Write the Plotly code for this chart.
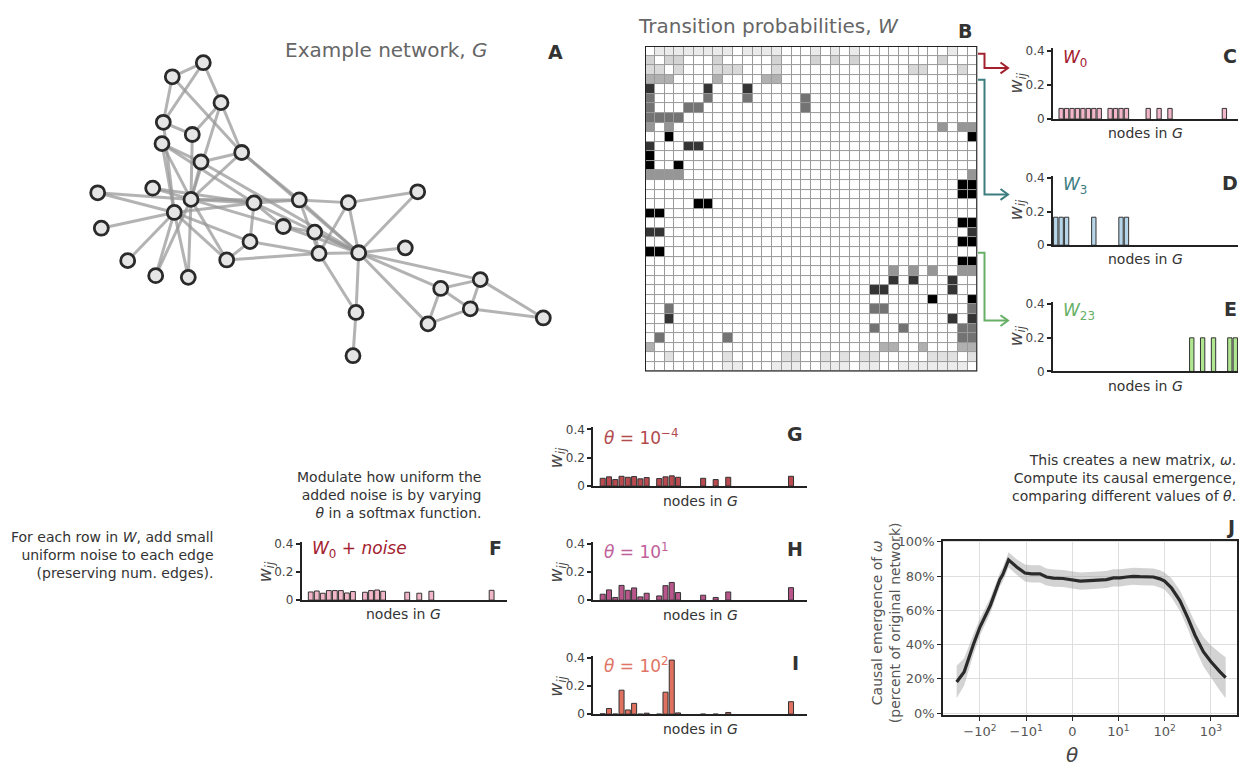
import plotly.graph_objects as go
import numpy as np

W_PX, H_PX = 1240, 771

# ---------------- data ----------------
# Zachary karate club edges (network behind matrix B and rows in C-E)
karate_edges = [
    (0, 1), (0, 2), (0, 3), (0, 4), (0, 5), (0, 6), (0, 7), (0, 8), (0, 10), (0, 11), (0, 12), (0, 13),
    (0, 17), (0, 19), (0, 21), (0, 31), (1, 2), (1, 3), (1, 7), (1, 13), (1, 17), (1, 19), (1, 21), (1, 30),
    (2, 3), (2, 7), (2, 8), (2, 9), (2, 13), (2, 27), (2, 28), (2, 32), (3, 7), (3, 12), (3, 13), (4, 6),
    (4, 10), (5, 6), (5, 10), (5, 16), (6, 16), (8, 30), (8, 32), (8, 33), (9, 33), (13, 33), (14, 32),
    (14, 33), (15, 32), (15, 33), (18, 32), (18, 33), (19, 33), (20, 32), (20, 33), (22, 32), (22, 33),
    (23, 25), (23, 27), (23, 29), (23, 32), (23, 33), (24, 25), (24, 27), (24, 31), (25, 31), (26, 29),
    (26, 33), (27, 33), (28, 31), (28, 33), (29, 32), (29, 33), (30, 32), (30, 33), (31, 32), (31, 33),
    (32, 33)]
n_nodes = 34

# Panel A layout coordinates
node_x = [203.3, 172.3, 221.0, 163.3, 192.3, 162.0, 241.7, 201.0, 97.7, 152.7, 191.0, 174.3,
          254.0, 299.3, 348.3, 417.7, 101.3, 283.3, 314.7, 250.0, 405.3, 319.0, 358.7, 127.7,
          226.7, 155.7, 188.3, 480.3, 440.7, 470.3, 356.0, 428.0, 543.3, 353.0]
node_y = [57.7, 72.0, 98.3, 118.3, 130.7, 140.0, 149.0, 158.7, 190.0, 185.3, 196.7, 210.0,
          200.3, 197.3, 200.0, 189.0, 226.0, 224.3, 230.0, 239.7, 246.0, 251.7, 251.0, 259.0,
          258.3, 274.3, 276.0, 278.3, 287.3, 308.0, 311.7, 323.3, 317.3, 355.7]
net_edges = [
    (0, 1), (0, 2), (0, 3), (1, 3), (1, 6), (2, 4), (2, 6), (2, 10), (3, 4), (3, 11), (4, 10), (5, 10),
    (5, 11), (5, 7), (5, 12), (6, 7), (6, 10), (6, 13), (6, 22), (7, 10), (7, 22), (8, 10), (8, 11),
    (9, 10), (9, 12), (10, 12), (10, 13), (10, 17), (10, 26), (10, 25), (10, 24), (11, 12), (11, 16),
    (11, 23), (11, 25), (11, 26), (11, 19), (11, 24), (12, 13), (12, 17), (12, 19), (12, 22), (13, 14),
    (13, 21), (13, 22), (14, 15), (14, 22), (14, 21), (15, 22), (17, 18), (17, 22), (18, 21), (18, 22),
    (19, 21), (19, 24), (21, 24), (21, 22), (20, 22), (22, 30), (30, 33), (21, 30), (22, 27), (22, 28),
    (22, 31), (27, 28), (28, 31), (28, 29), (27, 29), (29, 31), (27, 32), (29, 32)]

# Row 0 with noise (panels F-I)
row0_nbrs = [1, 2, 3, 4, 5, 6, 7, 8, 10, 11, 12, 13, 17, 19, 21, 31]
w0_noise = [0.058, 0.065, 0.049, 0.068, 0.068, 0.068, 0.051, 0.061, 0.056, 0.068, 0.072, 0.063,
            0.056, 0.049, 0.063, 0.070]
w_theta_m4 = [0.055, 0.065, 0.046, 0.069, 0.062, 0.067, 0.051, 0.060, 0.053, 0.065, 0.072, 0.062,
              0.055, 0.046, 0.062, 0.069]
w_theta_1 = [0.042, 0.073, 0.019, 0.105, 0.070, 0.087, 0.023, 0.049, 0.030, 0.103, 0.126, 0.054,
             0.035, 0.019, 0.058, 0.089]
w_theta_2 = [0.003, 0.040, 0.001, 0.171, 0.030, 0.077, 0.000, 0.007, 0.000, 0.157, 0.386, 0.009,
             0.000, 0.000, 0.012, 0.089]

# Panel J
theta = [-320, -220, -140, -100, -60, -37, -32, -24, -16, -10.6, -8.8, -7, -5.6, -4.1, -2, 0.2,
         1.7, 3.8, 6, 7.4, 8.9, 10.8, 15, 21, 29, 57, 79, 100, 140, 215, 325, 455, 690, 1000,
         1580, 2100]
ce_mean = [18.2, 24.1, 39.8, 50.3, 62.7, 78.0, 80.9, 89.5, 85.3, 81.8, 81.3, 81.3, 79.5, 78.8,
           78.6, 77.6, 77.1, 77.4, 77.6, 78.0, 79.0, 79.0, 79.5, 79.9, 79.7, 79.5, 78.4, 77.1,
           73.2, 65.6, 55.1, 45.5, 35.9, 30.2, 24.1, 20.7]
ce_err = [9.5, 8, 6, 5, 4.5, 4, 4, 4.5, 4.5, 5, 5, 5, 5, 5, 5, 5, 5, 5, 5, 5, 5, 5, 5, 5, 5, 5,
          5, 5, 5.5, 6, 6.5, 7.5, 8.5, 9.5, 11, 12]
j_ticks = [-100, -10, 0, 10, 100, 1000]
j_ticktext = ['\u221210<sup>2</sup>', '\u221210<sup>1</sup>', '0', '10<sup>1</sup>',
              '10<sup>2</sup>', '10<sup>3</sup>']
pct_ticks = [0, 20, 40, 60, 80, 100]

# ---------------- derived ----------------
A = np.zeros((n_nodes, n_nodes))
for a, b in karate_edges:
    A[a, b] = 1
    A[b, a] = 1
Wm = A / A.sum(axis=1, keepdims=True)


def symlog(v, lin=10.0):
    v = np.asarray(v, dtype=float)
    out = np.where(np.abs(v) <= lin, v / lin,
                   np.sign(v) * (1 + np.log10(np.maximum(np.abs(v), 1e-12) / lin)))
    return out


# ---------------- helpers ----------------
def xd(x0, x1):
    return [x0 / W_PX, x1 / W_PX]


def yd(ytop, ybot):
    return [1 - ybot / H_PX, 1 - ytop / H_PX]


def px(x):
    return x / W_PX


def py(y):
    return 1 - y / H_PX


fig = go.Figure()
layout = dict(width=W_PX, height=H_PX, margin=dict(l=0, r=0, t=0, b=0),
              paper_bgcolor='white', plot_bgcolor='white', showlegend=False,
              font=dict(family='DejaVu Sans', color='#333', size=13))
annotations = []
shapes = []


def ann(x, y, text, size=14, color='#333', xanchor='center', yanchor='middle', align='center',
        angle=0, bold=False):
    if bold:
        text = '<b>' + text + '</b>'
    annotations.append(dict(x=px(x), y=py(y), xref='paper', yref='paper', text=text,
                            showarrow=False, xanchor=xanchor, yanchor=yanchor, align=align,
                            textangle=angle, font=dict(size=size, color=color)))


hidden = dict(visible=False, showgrid=False, zeroline=False)

# ---- Panel A: network ----
layout['xaxis'] = dict(domain=xd(60, 570), range=[60, 570], anchor='y', **hidden)
layout['yaxis'] = dict(domain=yd(30, 380), range=[380, 30], anchor='x', **hidden)
for a, b in net_edges:
    fig.add_trace(go.Scatter(x=[node_x[a], node_x[b]], y=[node_y[a], node_y[b]], mode='lines',
                             line=dict(color='rgba(150,150,150,0.72)', width=3),
                             hoverinfo='skip', xaxis='x', yaxis='y'))
fig.add_trace(go.Scatter(x=node_x, y=node_y, mode='markers', xaxis='x', yaxis='y',
                         marker=dict(size=14, color='#e5e5e5', line=dict(color='#2a2a2a', width=2.8))))
ann(386, 45, 'Example network, <i>G</i>', size=20, color='#666')
ann(555, 47, 'A', size=19, bold=True)

# ---- Panel B: matrix ----
mx0, mx1, my0, my1 = 645, 977.3, 40.7, 371.7
layout['xaxis2'] = dict(domain=xd(mx0, mx1), range=[-0.5, n_nodes - 0.5], anchor='y2', **hidden)
layout['yaxis2'] = dict(domain=yd(my0, my1), range=[n_nodes - 0.5, -0.5], anchor='x2', **hidden)
greys = [[0, '#ffffff'], [0.125, '#f0f0f0'], [0.25, '#d9d9d9'], [0.375, '#bdbdbd'],
         [0.5, '#969696'], [0.625, '#737373'], [0.75, '#525252'], [0.875, '#252525'], [1, '#000000']]
fig.add_trace(go.Heatmap(z=Wm.tolist(), x=list(range(n_nodes)), y=list(range(n_nodes)),
                         colorscale=greys, zmin=0, zmax=0.4, showscale=False, xgap=1, ygap=1,
                         xaxis='x2', yaxis='y2', hoverinfo='skip'))
shapes.append(dict(type='rect', xref='x2', yref='y2', x0=-0.5, x1=n_nodes - 0.5, y0=-0.5,
                   y1=n_nodes - 0.5, fillcolor='#9a9a9a', line=dict(width=0), layer='below'))
shapes.append(dict(type='rect', xref='x2', yref='y2', x0=-0.5, x1=n_nodes - 0.5, y0=-0.5,
                   y1=n_nodes - 0.5, line=dict(color='#222', width=2), layer='above'))
ann(768, 20, 'Transition probabilities, <i>W</i>', size=20, color='#666')
ann(965, 25, 'B', size=19, bold=True)


# brackets + arrows
def bracket(ytop, ybot, color):
    path = (f'M {px(978)},{py(ytop)} L {px(984.5)},{py(ytop)} L {px(984.5)},{py(ybot)} '
            f'L {px(1008)},{py(ybot)}')
    shapes.append(dict(type='path', xref='paper', yref='paper', path=path,
                       line=dict(color=color, width=2)))
    chev = (f'M {px(1000.5)},{py(ybot - 5.5)} L {px(1008)},{py(ybot)} '
            f'L {px(1000.5)},{py(ybot + 5.5)}')
    shapes.append(dict(type='path', xref='paper', yref='paper', path=chev,
                       line=dict(color=color, width=2)))


bracket(48.5, 63, '#a3202f')
bracket(75, 191.7, '#3d7d7f')
bracket(251, 320, '#66b066')


# ---- bar panels ----
YTOP = 0.415


def bar_axes(i, x0, x1, yzero, y04):
    ytop_px = yzero - (yzero - y04) * YTOP / 0.4
    xa = 'xaxis%d' % i
    ya = 'yaxis%d' % i
    layout[xa] = dict(domain=xd(x0, x1), range=[-0.5, n_nodes - 0.5], anchor='y%d' % i,
                      showline=True, linecolor='#222', linewidth=2, showticklabels=False,
                      ticks='', showgrid=False, zeroline=False, fixedrange=True)
    layout[ya] = dict(domain=yd(ytop_px, yzero), range=[0, YTOP], anchor='x%d' % i,
                      showline=True, linecolor='#222', linewidth=2, ticks='outside', ticklen=4,
                      tickwidth=1.5, tickcolor='#222', tickvals=[0, 0.2, 0.4],
                      ticktext=['0', '0.2', '0.4'], tickfont=dict(size=12, color='#444'),
                      showgrid=False, zeroline=False)


def add_bars(i, xs, ys, color):
    fig.add_trace(go.Bar(x=xs, y=ys, width=0.8, marker=dict(color=color, line=dict(color='#333', width=1)),
                         xaxis='x%d' % i, yaxis='y%d' % i, hoverinfo='skip'))


def wlabel(x, y):
    ann(x, y, '<i>w</i><sub><i>ij</i></sub>', size=17, color='#444', angle=-90)


# C, D, E
cde = [(3, 0, 43.3, 115.0, 45.7, '#f2b6c9', '<i>W</i><sub>0</sub>', '#a3202f', 'C'),
       (4, 3, 172.7, 243.3, 175.0, '#b7d6ea', '<i>W</i><sub>3</sub>', '#3d7d7f', 'D'),
       (5, 23, 301.0, 371.7, 303.3, '#b0e892', '<i>W</i><sub>23</sub>', '#66b066', 'E')]
for i, row, _yt, yz, y4, col, lab, labcol, letter in cde:
    bar_axes(i, 1053, 1238, yz, y4)
    nz = [j for j in range(n_nodes) if Wm[row, j] > 0]
    add_bars(i, nz, [Wm[row, j] for j in nz], col)
    ann(1061, y4 + 7.5, lab, size=17, color=labcol, xanchor='left')
    ann(1230, y4 + 5, letter, size=19, bold=True)
    ann(1145.3, yz + 14.5, 'nodes in <i>G</i>', size=14)
    wlabel(1017.5, (yz + y4) / 2 - 2)

# F
bar_axes(6, 301.7, 506.7, 604.3, 547.3)
add_bars(6, row0_nbrs, w0_noise, '#f2b6c9')
ann(310, 553.3, '<i>W</i><sub>0</sub> + <i>noise</i>', size=17, color='#a3202f', xanchor='left')
ann(495, 551.7, 'F', size=19, bold=True)
ann(403.3, 618.3, 'nodes in <i>G</i>', size=14)
wlabel(266.0, 576.0)

# G, H, I
ghi = [(7, 488.3, 430.7, w_theta_m4, '#b84a50', '<i>\u03b8</i> = 10<sup>\u22124</sup>', '#b24a4e', 'G'),
       (8, 604.3, 547.3, w_theta_1, '#b8568c', '<i>\u03b8</i> = 10<sup>1</sup>', '#c0609a', 'H'),
       (9, 720.3, 663.3, w_theta_2, '#e0705f', '<i>\u03b8</i> = 10<sup>2</sup>', '#e07565', 'I')]
for i, yz, y4, vals, col, lab, labcol, letter in ghi:
    bar_axes(i, 593.3, 806.7, yz, y4)
    add_bars(i, row0_nbrs, vals, col)
    ann(601.7, y4 + 7.5, lab, size=17, color=labcol, xanchor='left')
    ann(795, y4 + 5, letter, size=19, bold=True)
    ann(700, yz + 15, 'nodes in <i>G</i>', size=14)
    wlabel(557.5, (yz + y4) / 2)

# ---- Panel J ----
tx = symlog(theta)
lo = [m - e for m, e in zip(ce_mean, ce_err)]
hi = [m + e for m, e in zip(ce_mean, ce_err)]
layout['xaxis10'] = dict(domain=xd(943.3, 1236.7), range=[-2.794, 3.561], anchor='y10',
                         showline=True, mirror=True, linecolor='#222', linewidth=2,
                         ticks='outside', ticklen=4, tickcolor='#222', tickvals=symlog(j_ticks).tolist(),
                         ticktext=j_ticktext, tickfont=dict(size=13, color='#555'),
                         showgrid=True, gridcolor='#dedede', gridwidth=1, zeroline=False)
layout['yaxis10'] = dict(domain=yd(544, 720.7), range=[-0.8, 100.6], anchor='x10',
                         showline=True, mirror=True, linecolor='#222', linewidth=2,
                         ticks='outside', ticklen=4, tickcolor='#222', tickvals=pct_ticks,
                         ticktext=['%d%%' % v for v in pct_ticks], tickfont=dict(size=13, color='#555'),
                         showgrid=True, gridcolor='#dedede', gridwidth=1, zeroline=False)
fig.add_trace(go.Scatter(x=tx, y=lo, mode='lines', line=dict(width=0, color='rgba(0,0,0,0)'),
                         xaxis='x10', yaxis='y10', hoverinfo='skip'))
fig.add_trace(go.Scatter(x=tx, y=hi, mode='lines', line=dict(width=0, color='rgba(0,0,0,0)'),
                         fill='tonexty', fillcolor='rgba(150,150,150,0.42)',
                         xaxis='x10', yaxis='y10', hoverinfo='skip'))
fig.add_trace(go.Scatter(x=tx, y=ce_mean, mode='lines', line=dict(color='#2a2a2a', width=3.2),
                         xaxis='x10', yaxis='y10', hoverinfo='skip'))
ann(1230, 530, 'J', size=19, bold=True)
ann(886.7, 627, 'Causal emergence of <i>\u03c9</i><br>(percent of original network)', size=14,
    color='#555', angle=-90)
ann(1072.3, 762, '<i>\u03b8</i>', size=20, color='#444')

# ---- explanatory texts ----
ann(216, 558.5, 'For each row in <i>W</i>, add small<br>uniform noise to each edge<br>'
    '(preserving num. edges).', size=14, xanchor='right', align='right')
ann(483.3, 497, 'Modulate how uniform the<br>added noise is by varying<br>'
    '<i>\u03b8</i> in a softmax function.', size=14, xanchor='right', align='right')
ann(1237.7, 480, 'This creates a new matrix, <i>\u03c9</i>.<br>Compute its causal emergence,<br>'
    'comparing different values of <i>\u03b8</i>.', size=14, xanchor='right', align='right')

layout['annotations'] = annotations
layout['shapes'] = shapes
fig.update_layout(**layout)
fig.write_html("out.html", config={'displayModeBar': False},
               post_script="document.body.style.margin='0px';")
